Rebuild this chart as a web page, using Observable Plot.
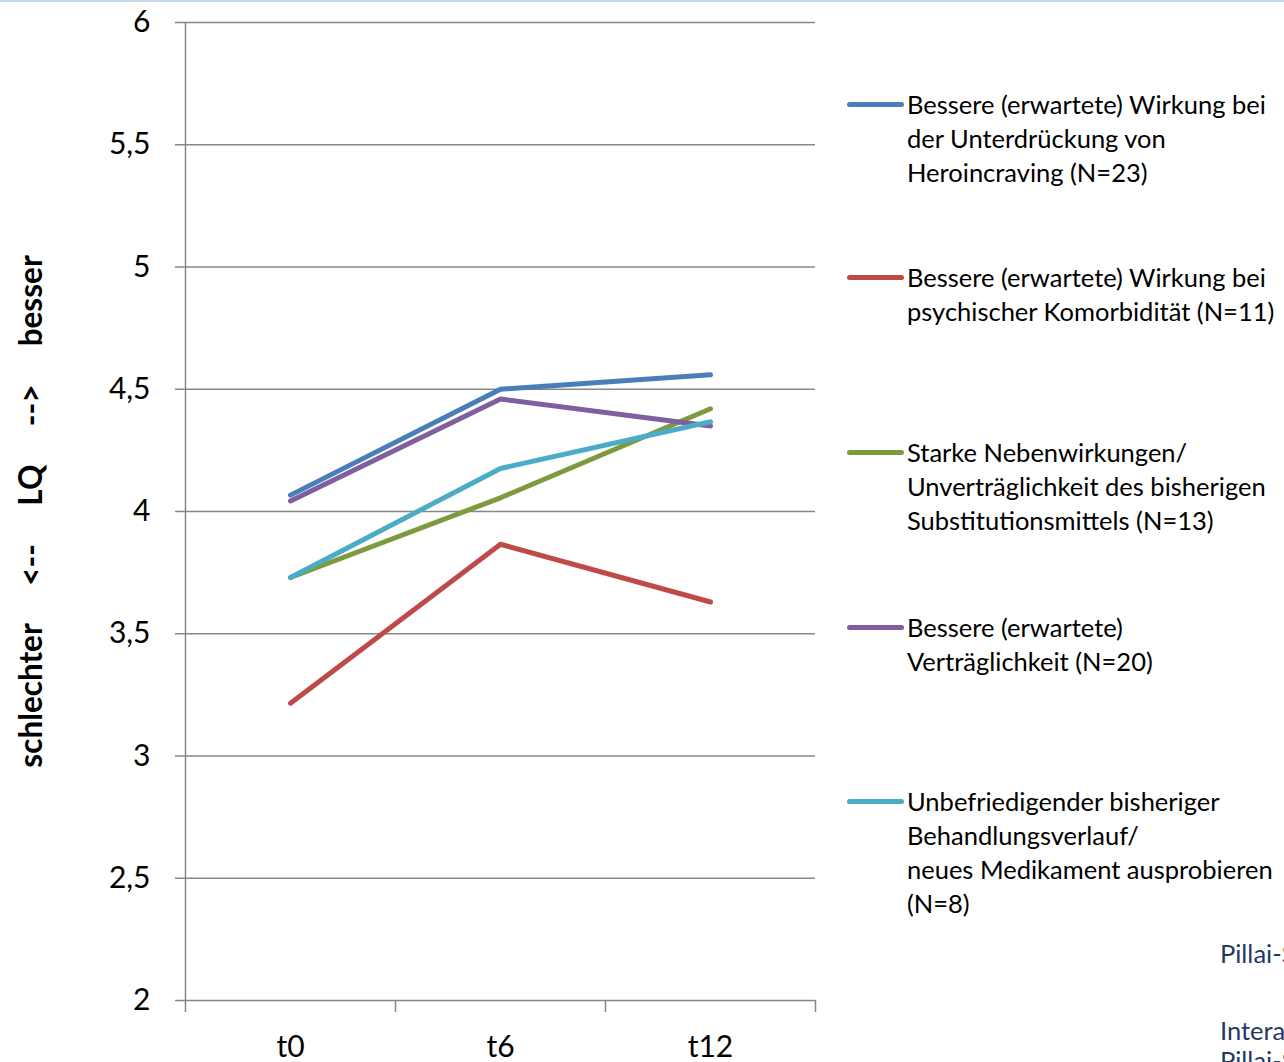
<!DOCTYPE html>
<html>
<head>
<meta charset="utf-8">
<script src="https://cdn.jsdelivr.net/npm/d3@7"></script>
<script src="https://cdn.jsdelivr.net/npm/@observablehq/plot@0.6"></script>
<style>
  html, body { margin: 0; padding: 0; background: #fff; }
  body { width: 1284px; height: 1062px; overflow: hidden; position: relative; font-family: Lato, "Open Sans", sans-serif; }
  #topline { position: absolute; left: 0; top: 0; width: 1284px; height: 2px; background: #c6d6ec; }
  #chart { position: absolute; left: 0; top: 0; }
  .legend { position: absolute; left: 847px; font-size: 25.5px; line-height: 34px; color: #000; }
  .entry { position: absolute; left: 0; width: 480px; white-space: nowrap; }
  .swatch { position: absolute; left: 0; top: 14.5px; width: 57px; height: 5px; border-radius: 3px; }
  .label { position: absolute; left: 60px; top: 0; }
  .note { position: absolute; left: 1220px; font-size: 25.5px; line-height: 30px; color: #1f3864; white-space: nowrap; }
</style>
</head>
<body>
<div id="topline"></div>
<div id="chart"></div>
<div class="legend" id="legend"></div>
<div class="note" style="top:938px">Pillai-Spur</div>
<div class="note" style="top:1015px">Interaktion<br>Pillai-Spur</div>
<script>
// Measurement points
const times = ["t0", "t6", "t12"];

// Group names (legend text, one array of lines per group)
const groups = [
  ["Bessere (erwartete) Wirkung bei", "der Unterdrückung von", "Heroincraving (N=23)"],
  ["Bessere (erwartete) Wirkung bei", "psychischer Komorbidität (N=11)"],
  ["Starke Nebenwirkungen/", "Unverträglichkeit des bisherigen", "Substitutionsmittels (N=13)"],
  ["Bessere (erwartete)", "Verträglichkeit (N=20)"],
  ["Unbefriedigender bisheriger", "Behandlungsverlauf/", "neues Medikament ausprobieren", "(N=8)"]
];

const colors = ["#4a7ebb", "#be4b48", "#7f9a3e", "#7f5fa0", "#4bacc6"];

// Mean LQ per group at t0, t6, t12
const heroincraving = [4.067, 4.50, 4.559];
const komorbiditaet = [3.216, 3.866, 3.63];
const nebenwirkungen = [3.73, 4.056, 4.42];
const vertraeglichkeit = [4.043, 4.46, 4.35];
const unbefriedigend = [3.73, 4.176, 4.367];

const seriesValues = [heroincraving, komorbiditaet, nebenwirkungen, vertraeglichkeit, unbefriedigend];

// y ticks
const yTicks = [2, 2.5, 3, 3.5, 4, 4.5, 5, 5.5, 6];

const data = [];
seriesValues.forEach((vals, g) => {
  vals.forEach((v, i) => data.push({group: g, t: i, value: v}));
});

const fmt = d => String(d).replace(".", ",");

const chart = Plot.plot({
  width: 1284,
  height: 1062,
  marginLeft: 185,
  marginRight: 469,
  marginTop: 22,
  marginBottom: 62,
  style: {fontFamily: "Lato, 'Open Sans', sans-serif", background: "transparent"},
  x: {type: "linear", domain: [-0.5, 2.5]},
  y: {domain: [2, 6]},
  marks: [
    // horizontal gridlines
    Plot.ruleY(yTicks, {stroke: "#878787", strokeWidth: 1.5}),
    // vertical value axis line
    Plot.ruleX([-0.5], {stroke: "#878787", strokeWidth: 1.5}),
    // y axis ticks and labels
    Plot.axisY({ticks: yTicks, tickSize: 10, tickPadding: 25, tickFormat: fmt, fontSize: 30, stroke: "#878787", strokeWidth: 1.5, strokeOpacity: 1, fill: "#000", label: null}),
    // category boundary ticks
    Plot.axisX({ticks: [-0.5, 0.5, 1.5, 2.5], tickSize: 12, tickFormat: () => "", stroke: "#878787", strokeWidth: 1.5, strokeOpacity: 1, label: null}),
    // category labels
    Plot.axisX({ticks: [0, 1, 2], tickSize: 0, tickPadding: 35, tickFormat: i => times[i], fontSize: 30, fill: "#000", label: null}),
    // series lines
    Plot.line(data, {x: "t", y: "value", z: "group", stroke: d => colors[d.group], strokeWidth: 5, strokeLinecap: "round", strokeLinejoin: "round"}),
    // value axis title
    Plot.text(["schlechter     <--     LQ     -->     besser"], {frameAnchor: "left", dx: -154, dy: 0, rotate: -90, fontSize: 31.5, fontWeight: "bold", fill: "#000", textAnchor: "middle", lineAnchor: "middle"})
  ]
});
chart.querySelectorAll("text").forEach(t => t.setAttribute("xml:space", "preserve"));
chart.querySelectorAll("text").forEach(t => t.style.whiteSpace = "pre");
document.getElementById("chart").appendChild(chart);

// Legend entries
const legendY = [104, 277, 452, 627, 801];
const legend = document.getElementById("legend");
groups.forEach((lines, g) => {
  const e = document.createElement("div");
  e.className = "entry";
  e.style.top = (legendY[g] - 17) + "px";
  const s = document.createElement("div");
  s.className = "swatch";
  s.style.background = colors[g];
  const l = document.createElement("div");
  l.className = "label";
  l.innerHTML = lines.join("<br>");
  e.appendChild(s);
  e.appendChild(l);
  legend.appendChild(e);
});
</script>
</body>
</html>
